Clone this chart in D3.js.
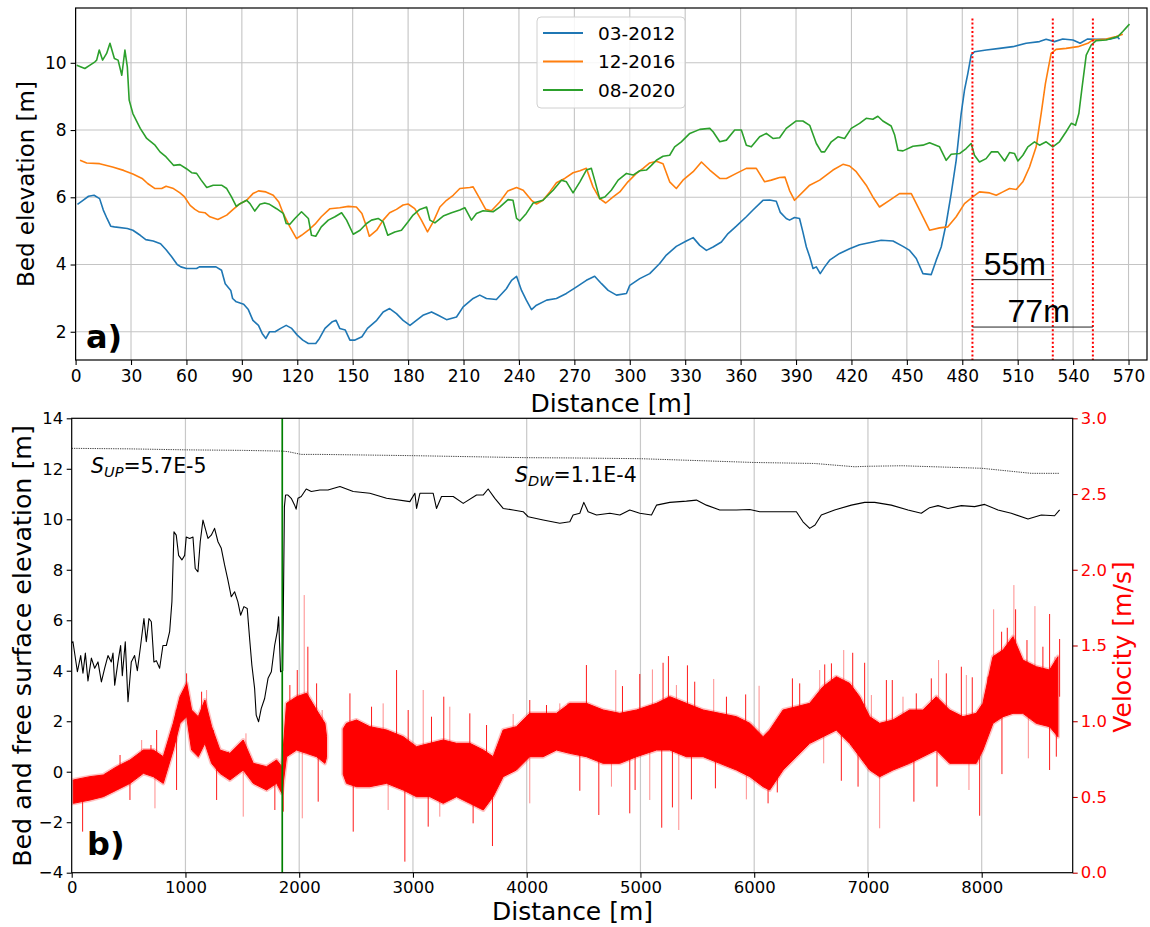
<!DOCTYPE html>
<html><head><meta charset="utf-8">
<script src="https://cdn.jsdelivr.net/npm/d3@7"></script>
<style>body{margin:0;background:#fff} svg{display:block} text{font-family:"DejaVu Sans",sans-serif}</style>
</head><body><svg id="c" width="1150" height="927"></svg>
<script>
// ---------- Panel a) data : [distance m, bed elevation m] ----------
const seriesNames = ["03-2012", "12-2016", "08-2020"];
const bed2012 = [[1,5.79],[4,5.91],[7,6.03],[10,6.06],[13,5.96],[15,5.62],[17,5.37],[19,5.14],[21,5.12],[28,5.07],[31,5.02],[35,4.87],[38,4.74],[42,4.70],[46,4.62],[49,4.44],[52,4.23],[55,4.0],[57,3.93],[60,3.88],[65.5,3.88],[67,3.93],[76,3.93],[79,3.83],[81,3.43],[84,3.23],[85,2.99],[87,2.89],[91,2.82],[93.5,2.66],[96,2.34],[99,2.19],[101,1.95],[103,1.8],[105,2.0],[108,2.0],[111,2.1],[114,2.19],[117,2.1],[120,1.9],[123,1.75],[126,1.65],[130,1.65],[132,1.8],[135,2.1],[139,2.3],[141,2.34],[143,2.1],[146,2.05],[148.5,1.75],[151,1.75],[155,1.85],[158,2.1],[163,2.34],[166.5,2.59],[170,2.69],[173.7,2.54],[177.3,2.34],[181,2.19],[184.5,2.34],[188,2.49],[192.7,2.59],[196.3,2.49],[200.8,2.36],[206.2,2.44],[209.8,2.74],[215.2,2.99],[218.8,3.09],[222.4,2.99],[227.8,2.96],[233.2,3.28],[236,3.53],[238.7,3.65],[241.4,3.23],[244,2.94],[246.8,2.66],[249.5,2.79],[255,2.94],[260.3,2.99],[265.7,3.14],[271,3.33],[276.5,3.53],[281,3.65],[284.7,3.43],[288.3,3.23],[292.8,3.09],[298.2,3.14],[300,3.38],[305.4,3.58],[310.8,3.73],[316.2,4.03],[319.8,4.28],[325.2,4.54],[330.6,4.7],[334.3,4.8],[337.9,4.57],[341.5,4.42],[345.1,4.52],[349.6,4.67],[353.2,4.92],[357.7,5.14],[363.1,5.42],[366.7,5.62],[372.1,5.91],[375.7,5.92],[379.3,5.88],[381.5,5.55],[384.7,5.37],[386.5,5.32],[389.2,5.4],[391.9,5.37],[393.7,4.97],[395.6,4.52],[397.4,4.23],[399.2,3.88],[401,3.93],[403.1,3.73],[405.5,3.93],[408.2,4.13],[413.6,4.33],[419,4.47],[424.4,4.59],[431.6,4.67],[436.1,4.72],[442.5,4.7],[447.9,4.54],[451.5,4.42],[455.1,4.18],[458.7,3.73],[463.2,3.7],[465.9,4.13],[468.6,4.52],[471.3,5.22],[474,6.11],[476.7,7.1],[479.4,8.49],[481.2,9.19],[483,9.68],[484.8,10.23],[486.6,10.33],[493,10.38],[500.2,10.43],[507.4,10.48],[514.6,10.58],[521.8,10.63],[525.4,10.7],[529.9,10.63],[534.4,10.71],[539.9,10.68],[543.8,10.58],[547.9,10.71],[552.5,10.7],[559.7,10.7],[564.2,10.76],[565.1,10.7]];
const bed2016 = [[2.4,7.1],[6,7.02],[13,7.0],[20,6.9],[26,6.8],[31,6.69],[36,6.56],[39,6.41],[43,6.26],[46.6,6.26],[49,6.33],[53,6.26],[56.5,6.13],[59,6.01],[62,5.76],[64.6,5.64],[67,5.56],[70,5.54],[72.7,5.42],[77,5.34],[81.8,5.47],[85.3,5.64],[89,5.81],[92.6,5.91],[96,6.11],[99,6.19],[103,6.16],[107,6.06],[110,5.86],[112.4,5.52],[116,5.12],[119.6,4.77],[122.3,4.87],[126,5.02],[129.6,5.2],[133,5.42],[137.7,5.66],[143,5.69],[147.6,5.73],[152,5.71],[155,5.52],[157.5,5.12],[159,4.84],[163,5.02],[166.5,5.32],[170,5.54],[173.7,5.64],[177.3,5.77],[180,5.8],[183.6,5.66],[187.2,5.32],[190.5,4.97],[193.6,5.27],[197.2,5.71],[200.8,5.91],[204.4,6.06],[208,6.26],[213.4,6.29],[215.2,6.31],[218.8,5.96],[222,5.64],[225.1,5.6],[229.6,5.86],[234,6.19],[238.7,6.29],[242.3,6.21],[246.8,5.91],[249.5,5.8],[253,5.91],[256.7,6.16],[260.3,6.43],[264.8,6.56],[269.3,6.73],[273,6.79],[276.5,6.86],[280.1,6.31],[283.7,5.96],[287,5.83],[291,6.01],[294.6,6.16],[299,6.46],[303.6,6.71],[307.2,6.86],[310.8,7.02],[314.4,7.07],[318,7.0],[321.6,6.46],[325.2,6.26],[328.8,6.51],[334.3,6.76],[338.8,7.05],[343.3,6.81],[348.7,6.56],[352.3,6.56],[357.7,6.71],[363.1,6.86],[368.5,6.86],[373,6.46],[376.6,6.51],[381.1,6.59],[384,6.6],[386.5,6.2],[389.2,5.91],[397.4,6.36],[402.8,6.51],[410,6.81],[415.4,6.98],[419,6.93],[422.6,6.76],[428,6.36],[431.6,6.01],[435.2,5.71],[440.6,5.91],[446,6.11],[452.4,6.11],[456.9,5.62],[462.3,5.02],[467.7,5.09],[472.2,5.12],[476.7,5.42],[481.2,5.81],[485.7,6.01],[489.3,6.16],[494.8,6.13],[498.4,6.06],[502,6.16],[505.6,6.26],[509.2,6.23],[512.8,6.46],[516.4,6.9],[520,7.5],[522.7,8.49],[525,9.38],[528.1,10.28],[530.8,10.4],[536.2,10.43],[542.6,10.48],[548,10.58],[550.7,10.68],[557.9,10.71],[563.3,10.78],[566.9,10.85]];
const bed2020 = [[0.6,9.93],[5,9.83],[7.8,9.93],[10.5,10.03],[11.4,10.08],[12.8,10.38],[14.6,10.08],[16.8,10.28],[18.6,10.58],[21,10.13],[23,10.08],[25,9.63],[26.7,10.38],[28,9.88],[29,8.89],[31,8.49],[35,8.05],[38.5,7.75],[43,7.55],[45.7,7.35],[49,7.2],[53,6.95],[56.5,6.97],[60,6.85],[62.8,6.73],[65.5,6.71],[68,6.51],[71,6.29],[74.5,6.36],[79,6.36],[81.8,6.26],[84.4,6.01],[87,5.73],[89,5.81],[92.6,5.91],[94.4,5.81],[97,5.59],[99.8,5.79],[102.4,5.83],[105,5.79],[108.8,5.66],[112.4,5.52],[114,5.22],[116,5.2],[118.7,5.37],[122.3,5.57],[126,5.37],[127.7,4.87],[130,4.84],[133,5.12],[136.8,5.32],[140.4,5.42],[144,5.54],[146.7,5.32],[150.3,4.9],[154,5.02],[157.5,5.22],[160.2,5.32],[163.8,5.37],[166.5,5.27],[169,4.87],[172.8,4.97],[176.4,5.02],[180,5.27],[182.7,5.47],[186.3,5.64],[190,5.71],[191.8,5.32],[194.5,5.24],[199,5.44],[203.5,5.54],[208,5.62],[210.7,5.69],[214.3,5.32],[217,5.52],[220.6,5.6],[226,5.57],[229.6,5.71],[234.1,5.93],[236.8,5.91],[238.7,5.37],[240.5,5.3],[244,5.52],[247.7,5.83],[253,5.91],[258.5,6.21],[263,6.51],[265.7,6.46],[269.3,6.13],[273,6.46],[276.5,6.81],[279.2,6.86],[281,6.51],[283.7,5.96],[286.5,6.01],[290,6.21],[293.7,6.51],[298.2,6.71],[301.8,6.66],[305.4,6.79],[309,6.81],[311.7,6.95],[314.4,7.1],[318,7.22],[321.6,7.25],[324.3,7.5],[327.9,7.65],[332.5,7.9],[337.9,8.02],[343.3,8.05],[345.1,7.95],[348.7,7.65],[352.3,7.7],[356.8,8.0],[360.4,8.0],[363.1,7.55],[365.8,7.5],[370.3,7.8],[373.9,7.9],[377.5,7.75],[381.1,7.77],[384.7,8.05],[390.1,8.27],[393.7,8.27],[397.4,8.14],[401,7.6],[403.7,7.35],[405.5,7.35],[409.1,7.65],[412.7,7.8],[416.3,7.75],[419.9,8.05],[424.4,8.2],[428,8.35],[431.6,8.32],[434.3,8.41],[437,8.27],[441.5,8.12],[443.4,7.85],[445.2,7.4],[447.9,7.38],[453.3,7.52],[458.7,7.55],[462.3,7.62],[467.7,7.5],[471.3,7.1],[474,7.28],[478.5,7.3],[482.1,7.45],[484.8,7.6],[486.6,7.25],[489.3,7.05],[492.9,7.15],[495.7,7.35],[499.3,7.35],[502.9,7.08],[505.6,7.33],[508.3,7.3],[510.1,7.08],[512.8,7.25],[515.5,7.5],[519.1,7.65],[521.8,7.55],[525.4,7.65],[529,7.5],[532.6,7.65],[536.2,7.95],[539,8.2],[541.3,8.14],[543.1,8.49],[544.9,9.29],[547.1,10.23],[549.8,10.53],[552.5,10.66],[557.9,10.68],[564.2,10.78],[566.9,10.93],[570.5,11.15]];
const seriesColors = ["#1f77b4", "#ff7f0e", "#2ca02c"];
const xTicksA = [0,30,60,90,120,150,180,210,240,270,300,330,360,390,420,450,480,510,540,570];
const yTicksA = [2,4,6,8,10];
const redMarkers = [485.5, 529, 550.7];            // dotted red verticals (m)
const spanLines = [[485.5, 529, 3.55, "55m", 491.6, 3.68], [485.5, 550.7, 2.14, "77m", 504.5, 2.29]];

// ---------- Panel b) data ----------
const bedLong = [[0,5.1],[11,5.15],[50,3.96],[79,4.6],[99,3.9],[120,4.7],[143,3.6],[173,4.5],[202,4.1],[231,4.35],[261,3.56],[290,4.1],[319,4.6],[348,4.35],[363,4.7],[378,3.43],[407,4.35],[430,5.0],[445,3.8],[471,5.15],[495,2.77],[524,4.35],[553,4.6],[577,4.0],[606,5.0],[635,6.07],[656,5.15],[679,6.07],[700,5.94],[723,4.35],[744,4.4],[773,4.1],[802,5.0],[832,5.0],[861,5.55],[881,6.73],[899,9.5],[919,9.37],[940,8.57],[969,8.39],[993,8.57],[1007,9.3],[1037,9.24],[1066,9.3],[1086,8.05],[1110,7.92],[1130,9.11],[1154,9.97],[1174,9.64],[1198,9.24],[1227,9.37],[1256,9.64],[1286,9.11],[1315,8.85],[1344,8.19],[1373,7.6],[1403,6.93],[1432,7.13],[1461,6.73],[1485,6.2],[1514,6.54],[1543,6.47],[1564,5.28],[1584,4.22],[1608,3.3],[1622,2.24],[1643,1.98],[1666,2.5],[1696,2.9],[1726,3.7],[1755,3.96],[1784,5.0],[1807,5.55],[1819,6.14],[1836,3.96],[1855,4.0],[1870,10.5],[1880,10.96],[1901,10.96],[1930,10.83],[1959,10.57],[1973,10.4],[1989,10.83],[2018,10.9],[2062,11.2],[2106,11.1],[2182,11.16],[2253,11.16],[2358,11.3],[2475,11.1],[2621,11.03],[2768,10.83],[2973,10.7],[3017,11.03],[3032,10.43],[3061,11.03],[3178,11.03],[3207,10.43],[3251,10.9],[3354,10.9],[3442,10.63],[3559,10.96],[3617,10.96],[3661,11.2],[3720,10.83],[3793,10.43],[3881,10.37],[3969,10.3],[4013,10.1],[4145,9.97],[4291,9.84],[4379,9.9],[4408,10.17],[4467,10.24],[4502,10.67],[4540,10.3],[4614,10.17],[4731,10.24],[4819,10.17],[4906,10.37],[4994,10.24],[5097,10.17],[5141,10.56],[5258,10.67],[5404,10.72],[5492,10.76],[5580,10.56],[5697,10.37],[5844,10.37],[5961,10.39],[6049,10.3],[6195,10.3],[6371,10.3],[6429,9.9],[6488,9.64],[6535,9.77],[6590,10.17],[6707,10.37],[6854,10.56],[6971,10.67],[7059,10.67],[7205,10.56],[7352,10.37],[7469,10.24],[7542,10.46],[7616,10.54],[7704,10.43],[7821,10.54],[7938,10.5],[8026,10.59],[8143,10.37],[8260,10.24],[8407,10.01],[8524,10.17],[8641,10.14],[8685,10.37]];
const freeSurface = [[0,12.81],[500,12.79],[1000,12.75],[1500,12.73],[1850,12.7],[1900,12.68],[2018,12.57],[2182,12.57],[3000,12.52],[4000,12.44],[4380,12.43],[5000,12.4],[6000,12.25],[6532,12.21],[6884,12.08],[7000,12.1],[7300,12.12],[8000,12.02],[8436,11.82],[8685,11.82]];
// velocity: [distance, dense-band low, dense-band high] (m/s); null = no data
const velBand = [[14,0.458,0.612],[161,0.48,0.634],[278,0.502,0.645],[396,0.546,0.70],[513,0.59,0.744],[630,0.656,0.81],[718,0.634,0.81],[805,0.59,0.766],[893,0.81,0.986],[952,0.986,1.162],[1011,1.03,1.25],[1054,0.81,1.074],[1113,0.766,1.03],[1171,0.854,1.14],[1230,0.722,0.964],[1303,0.656,0.81],[1391,0.612,0.788],[1508,0.678,0.876],[1596,0.59,0.722],[1713,0.546,0.70],[1801,0.59,0.744],[1848,0.524,0.70],[1889,0.766,1.118],[1977,0.81,1.162],[2065,0.788,1.184],[2153,0.766,1.074],[2226,0.722,0.986],[2240,0.76,0.9],[2300,null,null],[2387,0.65,0.95],[2416,0.59,0.986],[2504,0.568,1.008],[2621,0.568,0.964],[2768,0.59,0.942],[2914,0.546,0.898],[3031,0.502,0.832],[3149,0.502,0.854],[3266,0.458,0.876],[3383,0.502,0.854],[3500,0.458,0.854],[3618,0.414,0.81],[3705,0.502,0.766],[3793,0.634,0.942],[3910,0.678,0.964],[4027,0.766,1.052],[4144,0.766,1.052],[4262,0.81,1.052],[4379,0.788,1.118],[4525,0.766,1.118],[4672,0.722,1.074],[4818,0.722,1.052],[4965,0.766,1.074],[5141,0.81,1.118],[5258,0.81,1.162],[5404,0.766,1.118],[5551,0.766,1.074],[5697,0.722,1.052],[5844,0.678,1.03],[5962,0.634,0.986],[6078,0.568,0.898],[6136,0.546,0.942],[6254,0.678,1.074],[6371,0.766,1.096],[6488,0.854,1.118],[6605,0.898,1.228],[6722,0.942,1.294],[6839,0.854,1.25],[6927,0.766,1.162],[7015,0.678,1.03],[7103,0.634,0.986],[7220,0.678,1.008],[7366,0.722,1.074],[7483,0.766,1.074],[7601,0.81,1.162],[7718,0.722,1.074],[7835,0.722,1.03],[7952,0.722,1.052],[8011,0.81,1.118],[8099,0.986,1.426],[8187,1.03,1.47],[8275,1.052,1.558],[8362,1.052,1.404],[8480,0.986,1.36],[8597,0.964,1.338],[8670,0.898,1.426]];
// velocity extremes (individual spikes): [distance, velocity]
const velSpikesHigh = [[425,0.777],[615,0.876],[697,0.843],[747,0.942],[917,1.074],[1010,1.316],[1142,1.195],[1186,1.206],[1245,0.942],[1376,0.799],[1532,0.92],[1918,1.239],[1983,1.338],[2044,1.833],[2076,1.492],[2153,1.25],[2202,1.074],[2446,1.184],[2636,1.096],[2738,1.118],[2856,1.338],[2958,1.074],[3090,1.206],[3163,1.03],[3271,1.162],[3324,1.096],[3500,1.052],[3647,0.975],[3881,1.048],[4027,1.14],[4174,1.107],[4291,1.118],[4364,1.118],[4525,1.371],[4783,1.338],[4842,1.232],[4994,1.312],[5105,1.342],[5199,1.386],[5246,1.43],[5316,1.239],[5413,1.369],[5477,1.261],[5644,1.279],[5756,1.162],[5925,1.177],[6043,1.234],[6336,1.283],[6400,1.25],[6576,1.338],[6620,1.375],[6679,1.382],[6787,1.47],[6866,1.452],[6971,1.386],[7030,1.173],[7162,1.272],[7214,1.272],[7308,1.162],[7425,1.184],[7557,1.283],[7621,1.404],[7689,1.316],[7821,1.36],[7865,1.305],[7917,1.29],[8055,1.294],[8105,1.739],[8175,1.591],[8225,1.617],[8283,1.899],[8298,1.739],[8398,1.536],[8468,1.76],[8538,1.492],[8597,1.708],[8644,1.426],[8685,1.543]];
const velSpikesLow = [[96,0.271],[512,0.48],[732,0.425],[922,0.546],[1274,0.48],[1508,0.37],[1786,0.414],[1860,0.403],[2027,0.359],[2167,0.469],[2475,0.271],[2782,0.414],[2929,0.073],[3134,0.304],[3236,0.37],[3529,0.326],[3699,0.176],[4027,0.458],[4467,0.541],[4634,0.381],[4745,0.568],[4906,0.392],[4953,0.546],[5082,0.48],[5187,0.297],[5281,0.431],[5337,0.282],[5448,0.484],[5659,0.557],[5931,0.484],[6122,0.458],[6203,0.53],[6611,0.722],[6766,0.607],[6913,0.568],[7103,0.293],[7404,0.469],[7607,0.568],[7888,0.546],[7982,0.376],[8178,0.651],[8410,0.755],[8597,0.678],[8656,0.766]];
const transitionX = 1851;
const xTicksB = [0,1000,2000,3000,4000,5000,6000,7000,8000];
const yTicksB = [-4,-2,0,2,4,6,8,10,12,14];
const yTicksV = [0.0,0.5,1.0,1.5,2.0,2.5,3.0];

// ---------- drawing ----------
const svg = d3.select('#c');
svg.append('rect').attr('width',1150).attr('height',927).attr('fill','#fff');
const defs = svg.append('defs');

// ===== Panel a =====
const A = {l:75.6, r:1147, t:8, b:360};
const xa = d3.scaleLinear().domain([0,580]).range([A.l, A.r]);
const ya = d3.scaleLinear().domain([1.16,11.63]).range([A.b, A.t]);
const ga = svg.append('g');
ga.selectAll('.gx').data(xTicksA).join('line').attr('x1',d=>xa(d)).attr('x2',d=>xa(d)).attr('y1',A.t).attr('y2',A.b).attr('stroke','#c4c4c4').attr('stroke-width',1.1);
ga.selectAll('.gy').data(yTicksA).join('line').attr('y1',d=>ya(d)).attr('y2',d=>ya(d)).attr('x1',A.l).attr('x2',A.r).attr('stroke','#c4c4c4').attr('stroke-width',1.1);
defs.append('clipPath').attr('id','clipA').append('rect').attr('x',A.l).attr('y',A.t).attr('width',A.r-A.l).attr('height',A.b-A.t);
const lineA = d3.line().x(d=>xa(d[0])).y(d=>ya(d[1]));
const gl = ga.append('g').attr('clip-path','url(#clipA)');
[bed2012, bed2016, bed2020].forEach((s,i)=>{
  gl.append('path').attr('d',lineA(s)).attr('fill','none').attr('stroke',seriesColors[i]).attr('stroke-width',1.6).attr('stroke-linejoin','round');
});
redMarkers.forEach(m=>{
  ga.append('line').attr('x1',xa(m)).attr('x2',xa(m)).attr('y1',ya(11.32)).attr('y2',A.b).attr('stroke','#ff0000').attr('stroke-width',2).attr('stroke-dasharray','2,2.2');
});
spanLines.forEach(s=>{
  ga.append('line').attr('x1',xa(s[0])).attr('x2',xa(s[1])).attr('y1',ya(s[2])).attr('y2',ya(s[2])).attr('stroke','#222').attr('stroke-width',1);
  ga.append('text').attr('x',xa(s[4])).attr('y',ya(s[5])).attr('font-size',32).style('font-family','"Liberation Sans",Arial,sans-serif').attr('fill','#000').text(s[3]);
});
const axA = d3.axisBottom(xa).tickValues(xTicksA).tickSize(5).tickSizeOuter(0).tickPadding(5).tickFormat(d3.format('d'));
const gxa = ga.append('g').attr('transform',`translate(0,${A.b})`).call(axA);
const ayA = d3.axisLeft(ya).tickValues(yTicksA).tickSize(5).tickSizeOuter(0).tickPadding(4).tickFormat(d3.format('d'));
const gya = ga.append('g').attr('transform',`translate(${A.l},0)`).call(ayA);
[gxa,gya].forEach(g=>{g.select('.domain').remove(); g.selectAll('text').attr('font-size',17).style('font-family','"DejaVu Sans"').attr('fill','#000'); g.selectAll('line').attr('stroke','#000').attr('stroke-width',1.1);});
ga.append('rect').attr('x',A.l).attr('y',A.t).attr('width',A.r-A.l).attr('height',A.b-A.t).attr('fill','none').attr('stroke','#000').attr('stroke-width',1.2);
ga.append('text').attr('x',611).attr('y',411.5).attr('text-anchor','middle').attr('font-size',25).text('Distance [m]');
ga.append('text').attr('transform','translate(34,184) rotate(-90)').attr('text-anchor','middle').attr('font-size',23).text('Bed elevation [m]');
ga.append('text').attr('x',86).attr('y',348).attr('font-size',32).attr('font-weight','bold').text('a)');
const lg = ga.append('g');
lg.append('rect').attr('x',537).attr('y',17).attr('width',148).attr('height',91).attr('rx',4).attr('fill','#fff').attr('fill-opacity',0.85).attr('stroke','#d0d0d0');
seriesNames.forEach((n,i)=>{
  const yy = 33 + i*28.5;
  lg.append('line').attr('x1',543).attr('x2',583).attr('y1',yy).attr('y2',yy).attr('stroke',seriesColors[i]).attr('stroke-width',1.8);
  lg.append('text').attr('x',598).attr('y',yy).attr('dy','0.36em').attr('font-size',18.5).text(n);
});

// ===== Panel b =====
const B = {l:71.7, r:1072.7, t:418.3, b:872.7};
const xb = d3.scaleLinear().domain([0,8800]).range([B.l, B.r]);
const yb = d3.scaleLinear().domain([-4,14]).range([B.b, B.t]);
const yv = d3.scaleLinear().domain([0,3]).range([B.b, B.t]);
const gb = svg.append('g');
gb.selectAll('.gxb').data(xTicksB.slice(1)).join('line').attr('x1',d=>xb(d)).attr('x2',d=>xb(d)).attr('y1',B.t).attr('y2',B.b).attr('stroke','#c8c8c8').attr('stroke-width',1.2);
defs.append('clipPath').attr('id','clipB').append('rect').attr('x',B.l).attr('y',B.t).attr('width',B.r-B.l).attr('height',B.b-B.t);
const gbl = gb.append('g').attr('clip-path','url(#clipB)');
const vArea = d3.area().defined(d=>d[1]!==null).x(d=>xb(d[0])).y0(d=>yv(d[1])).y1(d=>yv(d[2]));
const bandPts = velBand.filter(d=>d[1]!==null);
function bandAt(x){
  for(let i=0;i<bandPts.length-1;i++){
    if(x>=bandPts[i][0] && x<=bandPts[i+1][0]){
      const t=(x-bandPts[i][0])/((bandPts[i+1][0]-bandPts[i][0])||1);
      return [bandPts[i][1]*(1-t)+bandPts[i+1][1]*t, bandPts[i][2]*(1-t)+bandPts[i+1][2]*t];
    }
  }
  const l = x<bandPts[0][0]?bandPts[0]:bandPts[bandPts.length-1];
  return [l[1], l[2]];
}
gbl.append('path').attr('d',vArea(velBand)).attr('fill','none').attr('stroke','#ff2020').attr('stroke-opacity',0.28).attr('stroke-width',4).attr('stroke-linejoin','round');
gbl.append('path').attr('d',vArea(velBand)).attr('fill','#ff0000').attr('stroke','#ff0000').attr('stroke-width',1).attr('stroke-linejoin','round');
gbl.selectAll('.spkh').data(velSpikesHigh).join('line')
  .attr('x1',d=>xb(d[0])).attr('x2',d=>xb(d[0]))
  .attr('y1',d=>yv((bandAt(d[0])[0]+bandAt(d[0])[1])/2)).attr('y2',d=>yv(d[1]))
  .attr('stroke','#ff0000').attr('stroke-width',1).attr('stroke-opacity',(d,i)=>i%3===1?0.45:0.9);
gbl.selectAll('.spkl').data(velSpikesLow).join('line')
  .attr('x1',d=>xb(d[0])).attr('x2',d=>xb(d[0]))
  .attr('y1',d=>yv((bandAt(d[0])[0]+bandAt(d[0])[1])/2)).attr('y2',d=>yv(d[1]))
  .attr('stroke','#ff0000').attr('stroke-width',1).attr('stroke-opacity',(d,i)=>i%3===2?0.45:0.9);
const lineB = d3.line().x(d=>xb(d[0])).y(d=>yb(d[1]));
gbl.append('path').attr('d',lineB(bedLong)).attr('fill','none').attr('stroke','#000').attr('stroke-width',1.1).attr('stroke-linejoin','round');
gbl.append('path').attr('d',lineB(freeSurface)).attr('fill','none').attr('stroke','#444').attr('stroke-width',1).attr('stroke-dasharray','1.3,1');
gb.append('line').attr('x1',xb(transitionX)).attr('x2',xb(transitionX)).attr('y1',B.t).attr('y2',B.b).attr('stroke','#008000').attr('stroke-width',1.7);
const axB = d3.axisBottom(xb).tickValues(xTicksB).tickSize(5).tickSizeOuter(0).tickPadding(4).tickFormat(d3.format('d'));
const gxb = gb.append('g').attr('transform',`translate(0,${B.b})`).call(axB);
const ayB = d3.axisLeft(yb).tickValues(yTicksB).tickSize(5).tickSizeOuter(0).tickPadding(3.5).tickFormat(d=>d<0?'\u2212'+Math.abs(d):String(d));
const gyb = gb.append('g').attr('transform',`translate(${B.l},0)`).call(ayB);
const ayV = d3.axisRight(yv).tickValues(yTicksV).tickSize(5).tickSizeOuter(0).tickPadding(3).tickFormat(d3.format('.1f'));
const gyv = gb.append('g').attr('transform',`translate(${B.r},0)`).call(ayV);
[gxb,gyb,gyv].forEach(g=>{g.select('.domain').remove(); g.selectAll('text').attr('font-size',16.5).style('font-family','"DejaVu Sans"').attr('fill','#000'); g.selectAll('line').attr('stroke','#000').attr('stroke-width',1.1);});
gyv.selectAll('text').attr('fill','#ff0000');
gyv.selectAll('line').attr('stroke','#c00000');
gb.append('rect').attr('x',B.l).attr('y',B.t).attr('width',B.r-B.l).attr('height',B.b-B.t).attr('fill','none').attr('stroke','#000').attr('stroke-width',1.2);
gb.append('text').attr('x',572.5).attr('y',920).attr('text-anchor','middle').attr('font-size',25).text('Distance [m]');
gb.append('text').attr('transform','translate(31,646) rotate(-90)').attr('text-anchor','middle').attr('font-size',25.3).text('Bed and free surface elevation [m]');
gb.append('text').attr('transform','translate(1131,647) rotate(-90)').attr('text-anchor','middle').attr('font-size',25).attr('fill','#ff0000').text('Velocity [m/s]');
gb.append('text').attr('x',87).attr('y',855).attr('font-size',32).attr('font-weight','bold').text('b)');
function slopeLabel(x,y,sub,val){
  const t = gb.append('text').attr('x',x).attr('y',y).attr('font-size',20.5);
  t.append('tspan').attr('font-style','italic').text('S');
  t.append('tspan').attr('font-style','italic').attr('font-size',14.5).attr('dy',4).text(sub);
  t.append('tspan').attr('dy',-4).text(val);
}
slopeLabel(91,473,'UP','=5.7E-5');
slopeLabel(515,481.5,'DW','=1.1E-4');
</script></body></html>
